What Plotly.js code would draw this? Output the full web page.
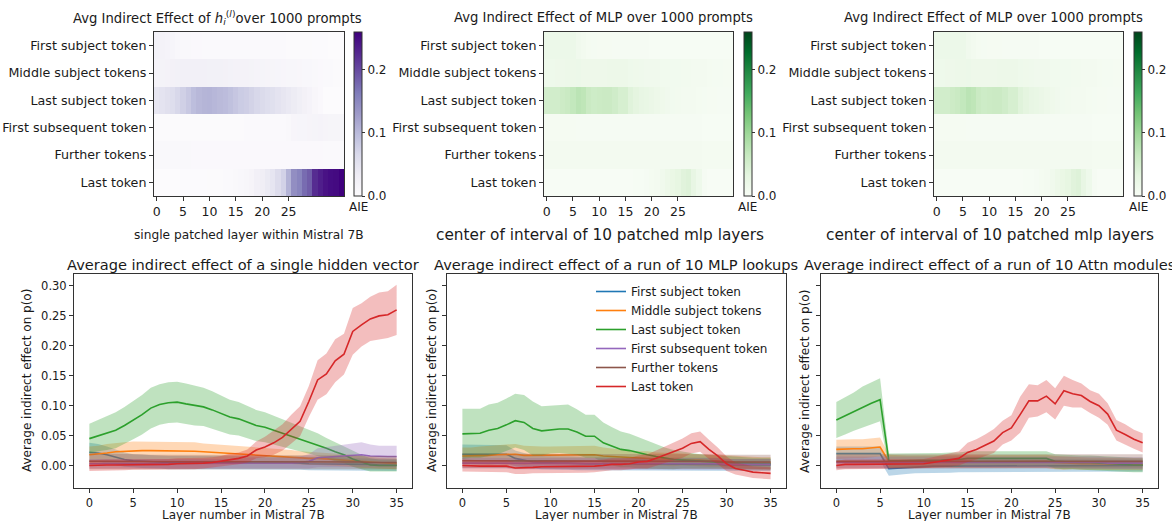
<!DOCTYPE html>
<html>
<head>
<meta charset="utf-8">
<script src="https://cdn.plot.ly/plotly-3.0.1.min.js"></script>
<style>html,body{margin:0;padding:0;background:#fff;}#chart{width:1172px;height:521px;}</style>
</head>
<body>
<div id="chart"></div>
<script>
const layers = [0,1,2,3,4,5,6,7,8,9,10,11,12,13,14,15,16,17,18,19,20,21,22,23,24,25,26,27,28,29,30,31,32,33,34,35];
const tokenLabels = ['First subject token','Middle subject tokens','Last subject token','First subsequent token','Further tokens','Last token'];
const seriesColors = ['#1f77b4','#ff7f0e','#2ca02c','#9467bd','#8c564b','#d62728'];
const bandColors = ['rgba(31,119,180,0.3)','rgba(255,127,14,0.3)','rgba(44,160,44,0.3)','rgba(148,103,189,0.3)','rgba(140,86,75,0.3)','rgba(214,39,40,0.3)'];
const heatTickVals = [0,5,10,15,20,25];
const lineTickVals = [0,5,10,15,20,25,30,35];
const yTickVals = [0,0.05,0.10,0.15,0.20,0.25,0.30];
const yTickText = ['0.00','0.05','0.10','0.15','0.20','0.25','0.30'];
const cbTickVals = [0,0.1,0.2];
const cbTickText = ['0.0','0.1','0.2'];

// ---- single hidden vector ----
const hidFirstSubj = [0.022,0.021,0.018,0.014,0.010,0.008,0.007,0.006,0.006,0.005,0.005,0.005,
  0.005,0.005,0.005,0.004,0.004,0.004,0.004,0.004,0.004,0.004,0.004,0.004,
  0.004,0.003,0.003,0.003,0.003,0.003,0.002,0.002,0.002,0.001,0.001,0.001];
const hidFirstSubjErr = [0.016,0.015,0.014,0.013,0.012,0.011,0.011,0.011,0.011,0.011,0.011,0.011,
  0.011,0.011,0.011,0.011,0.011,0.011,0.011,0.011,0.011,0.011,0.011,0.011,
  0.011,0.011,0.011,0.011,0.011,0.011,0.010,0.010,0.010,0.010,0.010,0.010];
const hidMidSubj = [0.018,0.019,0.021,0.023,0.024,0.025,0.025,0.025,0.025,0.025,0.024,0.024,
  0.024,0.023,0.022,0.021,0.020,0.020,0.019,0.018,0.017,0.016,0.015,0.014,
  0.013,0.012,0.012,0.011,0.010,0.009,0.008,0.006,0.005,0.004,0.003,0.003];
const hidMidSubjErr = [0.014,0.014,0.015,0.015,0.015,0.015,0.015,0.015,0.015,0.015,0.015,0.015,
  0.015,0.014,0.014,0.014,0.013,0.013,0.013,0.013,0.012,0.012,0.012,0.012,
  0.011,0.011,0.011,0.011,0.010,0.010,0.010,0.010,0.009,0.009,0.009,0.009];
const hidLastSubj = [0.045,0.050,0.054,0.059,0.067,0.076,0.085,0.096,0.102,0.105,0.106,0.103,
  0.100,0.098,0.093,0.087,0.081,0.078,0.073,0.067,0.064,0.059,0.055,0.050,
  0.045,0.040,0.035,0.029,0.023,0.018,0.011,0.006,0.001,0.000,0.000,0.000];
const hidLastSubjErr = [0.025,0.026,0.028,0.030,0.031,0.032,0.033,0.034,0.034,0.034,0.034,0.034,
  0.033,0.032,0.031,0.030,0.029,0.028,0.027,0.026,0.025,0.024,0.023,0.022,
  0.021,0.020,0.019,0.017,0.016,0.014,0.013,0.012,0.011,0.010,0.010,0.010];
const hidFirstSubseq = [0.003,0.003,0.003,0.003,0.003,0.003,0.003,0.003,0.003,0.003,0.003,0.003,
  0.003,0.003,0.003,0.003,0.003,0.004,0.004,0.004,0.004,0.004,0.004,0.004,
  0.005,0.007,0.013,0.014,0.014,0.016,0.017,0.018,0.016,0.015,0.015,0.015];
const hidFirstSubseqErr = [0.008,0.008,0.008,0.008,0.008,0.008,0.008,0.008,0.008,0.008,0.008,0.008,
  0.008,0.008,0.008,0.008,0.008,0.009,0.009,0.009,0.009,0.009,0.009,0.010,
  0.010,0.012,0.016,0.017,0.018,0.019,0.020,0.021,0.019,0.018,0.018,0.018];
const hidFurther = [0.007,0.007,0.007,0.007,0.007,0.007,0.007,0.006,0.006,0.006,0.006,0.006,
  0.006,0.006,0.006,0.006,0.006,0.006,0.006,0.006,0.006,0.006,0.006,0.006,
  0.006,0.006,0.006,0.006,0.006,0.006,0.006,0.006,0.005,0.005,0.005,0.005];
const hidFurtherErr = [0.013,0.013,0.013,0.013,0.013,0.013,0.012,0.012,0.012,0.012,0.012,0.012,
  0.012,0.012,0.012,0.012,0.012,0.012,0.012,0.012,0.012,0.012,0.012,0.012,
  0.012,0.012,0.012,0.012,0.012,0.012,0.011,0.011,0.011,0.011,0.011,0.011];
const hidLast = [0.000,0.001,0.001,0.001,0.001,0.002,0.002,0.002,0.002,0.002,0.003,0.003,
  0.003,0.004,0.005,0.007,0.010,0.012,0.016,0.026,0.031,0.038,0.047,0.061,
  0.074,0.107,0.143,0.153,0.175,0.186,0.224,0.235,0.245,0.250,0.252,0.260];
const hidLastErr = [0.009,0.009,0.009,0.009,0.009,0.009,0.009,0.009,0.009,0.009,0.009,0.009,
  0.009,0.009,0.009,0.009,0.010,0.010,0.011,0.014,0.017,0.020,0.022,0.024,
  0.025,0.026,0.033,0.034,0.036,0.034,0.039,0.036,0.037,0.039,0.039,0.042];

// ---- run of 10 MLP lookups ----
const mlpFirstSubj = [0.019,0.019,0.019,0.019,0.019,0.019,0.012,0.009,0.006,0.005,0.004,0.004,
  0.004,0.003,0.003,0.003,0.003,0.003,0.003,0.003,0.002,0.002,0.002,0.002,
  0.002,0.002,0.002,0.002,0.002,0.002,0.001,0.001,0.001,0.001,0.001,0.001];
const mlpFirstSubjErr = [0.016,0.016,0.016,0.016,0.016,0.015,0.013,0.012,0.011,0.011,0.011,0.011,
  0.011,0.011,0.011,0.011,0.011,0.011,0.011,0.011,0.011,0.011,0.011,0.011,
  0.011,0.011,0.011,0.011,0.011,0.011,0.010,0.010,0.010,0.010,0.010,0.010];
const mlpMidSubj = [0.016,0.016,0.017,0.017,0.018,0.018,0.019,0.017,0.017,0.017,0.017,0.017,
  0.018,0.018,0.018,0.018,0.016,0.015,0.014,0.013,0.012,0.012,0.011,0.011,
  0.010,0.010,0.009,0.009,0.008,0.008,0.007,0.006,0.005,0.005,0.004,0.004];
const mlpMidSubjErr = [0.014,0.014,0.015,0.016,0.016,0.017,0.017,0.016,0.015,0.015,0.015,0.015,
  0.015,0.015,0.015,0.015,0.014,0.013,0.013,0.012,0.012,0.012,0.011,0.011,
  0.011,0.010,0.010,0.010,0.010,0.010,0.010,0.010,0.010,0.010,0.010,0.010];
const mlpLastSubj = [0.053,0.054,0.054,0.059,0.062,0.068,0.075,0.072,0.062,0.058,0.060,0.061,
  0.061,0.056,0.049,0.049,0.038,0.032,0.027,0.025,0.021,0.018,0.015,0.012,
  0.010,0.009,0.008,0.007,0.007,0.006,0.005,0.004,0.004,0.003,0.003,0.003];
const mlpLastSubjErr = [0.042,0.041,0.041,0.043,0.043,0.044,0.045,0.046,0.045,0.041,0.040,0.040,
  0.041,0.038,0.036,0.036,0.034,0.032,0.030,0.028,0.026,0.024,0.021,0.018,
  0.016,0.014,0.013,0.012,0.011,0.011,0.010,0.010,0.010,0.010,0.010,0.010];
const mlpFirstSubseq = [0.004,0.004,0.004,0.004,0.004,0.004,0.003,0.003,0.003,0.003,0.003,0.003,
  0.003,0.003,0.003,0.003,0.003,0.003,0.003,0.003,0.003,0.003,0.003,0.003,
  0.003,0.003,0.003,0.003,0.003,0.003,0.002,0.002,0.002,0.002,0.002,0.002];
const mlpFirstSubseqErr = [0.009,0.009,0.009,0.009,0.009,0.009,0.009,0.009,0.009,0.009,0.009,0.009,
  0.009,0.009,0.009,0.009,0.009,0.009,0.009,0.009,0.009,0.009,0.009,0.009,
  0.009,0.009,0.009,0.009,0.009,0.009,0.009,0.009,0.009,0.009,0.009,0.009];
const mlpFurther = [0.008,0.008,0.008,0.008,0.008,0.008,0.007,0.007,0.007,0.007,0.007,0.007,
  0.007,0.007,0.007,0.007,0.007,0.007,0.007,0.007,0.007,0.007,0.007,0.007,
  0.007,0.007,0.007,0.007,0.007,0.007,0.006,0.006,0.006,0.006,0.006,0.006];
const mlpFurtherErr = [0.012,0.012,0.012,0.012,0.012,0.012,0.012,0.012,0.012,0.012,0.012,0.012,
  0.012,0.012,0.012,0.012,0.012,0.012,0.012,0.012,0.012,0.012,0.012,0.012,
  0.012,0.012,0.012,0.012,0.012,0.012,0.012,0.012,0.012,0.012,0.012,0.012];
const mlpLast = [0.000,-0.001,-0.001,-0.001,-0.001,-0.001,-0.004,-0.004,-0.003,-0.002,-0.002,-0.002,
  -0.002,-0.002,-0.002,-0.001,0.000,0.002,0.002,0.003,0.006,0.007,0.012,0.018,
  0.024,0.029,0.037,0.040,0.027,0.016,0.003,-0.005,-0.008,-0.011,-0.012,-0.013];
const mlpLastErr = [0.010,0.010,0.010,0.010,0.010,0.010,0.010,0.010,0.010,0.010,0.010,0.010,
  0.010,0.010,0.010,0.010,0.010,0.010,0.010,0.010,0.011,0.012,0.013,0.014,
  0.015,0.016,0.017,0.017,0.016,0.014,0.012,0.010,0.010,0.010,0.010,0.010];

// ---- run of 10 Attn modules ----
const attnFirstSubj = [0.020,0.020,0.020,0.020,0.020,0.020,-0.005,-0.004,-0.003,-0.002,-0.002,-0.001,
  -0.001,-0.001,0.000,0.000,0.000,0.000,0.000,0.000,0.000,0.000,0.000,0.000,
  0.000,0.000,0.000,0.000,0.000,0.000,0.000,0.000,0.000,0.000,0.000,0.000];
const attnFirstSubjErr = [0.012,0.012,0.012,0.012,0.012,0.012,0.012,0.011,0.011,0.011,0.011,0.011,
  0.011,0.011,0.011,0.011,0.011,0.011,0.011,0.011,0.011,0.011,0.011,0.011,
  0.011,0.011,0.011,0.011,0.011,0.011,0.010,0.010,0.010,0.010,0.010,0.010];
const attnMidSubj = [0.027,0.028,0.028,0.028,0.029,0.031,0.007,0.006,0.006,0.006,0.006,0.006,
  0.006,0.006,0.007,0.007,0.007,0.007,0.007,0.007,0.007,0.007,0.007,0.007,
  0.007,0.005,0.004,0.004,0.003,0.003,0.003,0.003,0.002,0.002,0.002,0.002];
const attnMidSubjErr = [0.016,0.016,0.016,0.016,0.016,0.016,0.011,0.011,0.011,0.011,0.011,0.011,
  0.011,0.011,0.011,0.011,0.011,0.011,0.011,0.011,0.011,0.011,0.011,0.011,
  0.011,0.011,0.011,0.010,0.010,0.010,0.010,0.010,0.010,0.010,0.010,0.010];
const attnLastSubj = [0.076,0.083,0.090,0.098,0.104,0.110,0.008,0.008,0.008,0.008,0.009,0.009,
  0.009,0.010,0.010,0.012,0.012,0.012,0.012,0.012,0.012,0.012,0.012,0.012,
  0.012,0.007,0.006,0.006,0.005,0.005,0.004,0.003,0.002,0.001,0.001,0.001];
const attnLastSubjErr = [0.030,0.031,0.032,0.034,0.035,0.036,0.012,0.012,0.012,0.012,0.012,0.012,
  0.012,0.012,0.012,0.012,0.012,0.012,0.012,0.012,0.012,0.012,0.012,0.012,
  0.012,0.012,0.012,0.012,0.012,0.012,0.012,0.012,0.012,0.012,0.012,0.012];
const attnFirstSubseq = [0.005,0.005,0.005,0.005,0.005,0.005,0.005,0.005,0.005,0.005,0.005,0.005,
  0.005,0.006,0.006,0.006,0.006,0.006,0.006,0.006,0.006,0.006,0.006,0.006,
  0.006,0.006,0.006,0.006,0.005,0.005,0.005,0.004,0.004,0.004,0.004,0.004];
const attnFirstSubseqErr = [0.010,0.010,0.010,0.010,0.010,0.010,0.010,0.010,0.010,0.010,0.010,0.010,
  0.010,0.010,0.010,0.010,0.010,0.010,0.010,0.010,0.010,0.010,0.010,0.010,
  0.010,0.010,0.010,0.010,0.010,0.010,0.010,0.010,0.010,0.010,0.010,0.010];
const attnFurther = [0.007,0.007,0.007,0.007,0.007,0.007,0.007,0.007,0.007,0.007,0.007,0.007,
  0.008,0.008,0.008,0.008,0.008,0.008,0.008,0.008,0.008,0.008,0.008,0.008,
  0.007,0.007,0.007,0.007,0.007,0.007,0.007,0.007,0.007,0.007,0.007,0.007];
const attnFurtherErr = [0.012,0.012,0.012,0.012,0.012,0.012,0.012,0.012,0.012,0.012,0.012,0.012,
  0.012,0.012,0.012,0.012,0.012,0.012,0.012,0.012,0.012,0.012,0.012,0.012,
  0.012,0.012,0.012,0.012,0.012,0.012,0.012,0.012,0.012,0.012,0.012,0.012];
const attnLast = [0.000,0.002,0.002,0.002,0.002,0.002,0.003,0.003,0.003,0.003,0.003,0.005,
  0.007,0.009,0.012,0.022,0.027,0.034,0.041,0.055,0.063,0.085,0.108,0.108,
  0.116,0.103,0.125,0.120,0.117,0.107,0.100,0.086,0.059,0.052,0.044,0.038];
const attnLastErr = [0.008,0.008,0.008,0.008,0.008,0.008,0.008,0.008,0.008,0.008,0.008,0.009,
  0.010,0.011,0.012,0.016,0.017,0.018,0.020,0.020,0.021,0.030,0.028,0.026,
  0.027,0.026,0.025,0.023,0.020,0.019,0.020,0.018,0.017,0.017,0.016,0.016];

const purples = [[0,'#fcfbfd'],[0.125,'#efedf5'],[0.25,'#dadaeb'],[0.375,'#bcbddc'],[0.5,'#9e9ac8'],[0.625,'#807dba'],[0.75,'#6a51a3'],[0.875,'#54278f'],[1,'#3f007d']];
const greens = [[0,'#f7fcf5'],[0.125,'#e5f5e0'],[0.25,'#c7e9c0'],[0.375,'#a1d99b'],[0.5,'#74c476'],[0.625,'#41ab5d'],[0.75,'#238b45'],[0.875,'#006d2c'],[1,'#00441b']];

const W = 1172, H = 521;
const px = v => v / W;
const py = v => 1 - v / H;
const FONT = 'DejaVu Sans';
const TXT = '#1a1a1a';
const AX = '#333333';

const hidSeries = [hidFirstSubj, hidMidSubj, hidLastSubj, hidFirstSubseq, hidFurther, hidLast];
const hidErrs = [hidFirstSubjErr, hidMidSubjErr, hidLastSubjErr, hidFirstSubseqErr, hidFurtherErr, hidLastErr];
const mlpSeries = [mlpFirstSubj, mlpMidSubj, mlpLastSubj, mlpFirstSubseq, mlpFurther, mlpLast];
const mlpErrs = [mlpFirstSubjErr, mlpMidSubjErr, mlpLastSubjErr, mlpFirstSubseqErr, mlpFurtherErr, mlpLastErr];
const attnSeries = [attnFirstSubj, attnMidSubj, attnLastSubj, attnFirstSubseq, attnFurther, attnLast];
const attnErrs = [attnFirstSubjErr, attnMidSubjErr, attnLastSubjErr, attnFirstSubseqErr, attnFurtherErr, attnLastErr];

const traces = [];

function heat(z, scale, xa, ya, cbx) {
  traces.push({
    type: 'heatmap', x: layers, y: tokenLabels, z: z, xaxis: xa, yaxis: ya,
    zmin: 0, zmax: 0.26, colorscale: scale, hoverinfo: 'skip',
    colorbar: {
      thickness: 8, thicknessmode: 'pixels', len: 164, lenmode: 'pixels',
      x: px(cbx), xanchor: 'left', y: py(32), yanchor: 'top', xpad: 0, ypad: 0,
      outlinewidth: 1, outlinecolor: AX, ticks: 'outside', ticklen: 3, tickcolor: AX,
      tickvals: cbTickVals, ticktext: cbTickText, tickfont: {family: FONT, size: 12, color: TXT}
    }
  });
}
heat(hidSeries, purples, 'x', 'y', 354);
heat(mlpSeries, greens, 'x2', 'y2', 744);
heat(mlpSeries, greens, 'x3', 'y3', 1134);

function linePanel(series, errs, xa, ya, legend) {
  const xBand = layers.concat(layers.slice().reverse());
  series.forEach((s, i) => {
    const up = s.map((v, k) => v + errs[i][k]);
    const lo = s.map((v, k) => v - errs[i][k]).reverse();
    traces.push({type: 'scatter', mode: 'lines', x: xBand, y: up.concat(lo), xaxis: xa, yaxis: ya,
      fill: 'toself', fillcolor: bandColors[i], line: {width: 0, color: bandColors[i]},
      showlegend: false, hoverinfo: 'skip'});
    traces.push({type: 'scatter', mode: 'lines', x: layers, y: s, xaxis: xa, yaxis: ya,
      name: tokenLabels[i], line: {color: seriesColors[i], width: 1.6},
      showlegend: legend, hoverinfo: 'skip'});
  });
}
linePanel(hidSeries, hidErrs, 'x4', 'y4', false);
linePanel(mlpSeries, mlpErrs, 'x5', 'y5', true);
linePanel(attnSeries, attnErrs, 'x6', 'y6', false);

function heatX(l, r, anchor) {
  return {domain: [px(l), px(r)], anchor: anchor, range: [-0.5, 35.5], tickvals: heatTickVals,
    ticks: 'outside', ticklen: 4, tickcolor: AX, showline: true, mirror: true, linecolor: AX, linewidth: 1,
    showgrid: false, zeroline: false, tickfont: {family: FONT, size: 12.5, color: TXT}, fixedrange: true};
}
function heatY(anchor) {
  return {domain: [py(196), py(32)], anchor: anchor, type: 'category', autorange: 'reversed',
    ticks: 'outside', ticklen: 4, tickcolor: AX, showline: true, mirror: true, linecolor: AX, linewidth: 1,
    showgrid: false, zeroline: false, tickfont: {family: FONT, size: 12.7, color: TXT}, fixedrange: true};
}
const lf = {family: FONT, size: 11.5, color: TXT};
function lineX(l, r, anchor) {
  return {domain: [px(l), px(r)], anchor: anchor, range: [-1.75, 36.75], tickvals: lineTickVals,
    ticks: 'outside', ticklen: 4, tickcolor: AX, showline: true, mirror: true, linecolor: AX, linewidth: 1,
    showgrid: false, zeroline: false, tickfont: lf};
}
function lineY(anchor, labels) {
  return {domain: [py(488), py(274)], anchor: anchor, range: [-0.0375, 0.32], tickvals: yTickVals, ticktext: yTickText,
    showticklabels: labels, ticks: 'outside', ticklen: 4, tickcolor: AX, showline: true, mirror: true,
    linecolor: AX, linewidth: 1, showgrid: false, zeroline: false, tickfont: lf};
}

function ann(text, x, y, size, extra) {
  return Object.assign({text: text, x: px(x), y: py(y), xref: 'paper', yref: 'paper', showarrow: false,
    xanchor: 'center', yanchor: 'middle', font: {family: FONT, size: size, color: TXT}}, extra || {});
}
const annotations = [
  ann('Avg Indirect Effect of <i>h</i><sub><i>i</i></sub><sup>(<i>l</i>)</sup>over 1000 prompts', 217, 18, 13.2),
  ann('Avg Indirect Effect of MLP over 1000 prompts', 603, 18, 13.2),
  ann('Avg Indirect Effect of MLP over 1000 prompts', 993, 18, 13.2),
  ann('single patched layer within Mistral 7B', 249, 235, 12.2),
  ann('center of interval of 10 patched mlp layers', 600, 235, 15.3),
  ann('center of interval of 10 patched mlp layers', 990, 235, 15.3),
  ann('AIE', 358, 207, 12), ann('AIE', 748, 207, 12), ann('AIE', 1138, 207, 12),
  ann('Average indirect effect of a single hidden vector', 243, 264, 14.6),
  ann('Average indirect effect of a run of 10 MLP lookups', 616, 264, 14.6),
  ann('Average indirect effect of a run of 10 Attn modules', 989, 264, 14.6),
  ann('Layer number in Mistral 7B', 243, 515, 12),
  ann('Layer number in Mistral 7B', 616, 515, 12),
  ann('Layer number in Mistral 7B', 989, 515, 12),
  ann('Average indirect effect on p(o)', 27, 381, 12, {textangle: -90}),
  ann('Average indirect effect on p(o)', 432, 381, 12, {textangle: -90}),
  ann('Average indirect effect on p(o)', 805, 381, 12, {textangle: -90})
];

const layout = {
  width: W, height: H, margin: {l: 0, r: 0, t: 0, b: 0}, paper_bgcolor: '#fff', plot_bgcolor: '#fff',
  font: {family: FONT, color: TXT},
  xaxis: heatX(154, 344, 'y'), yaxis: heatY('x'),
  xaxis2: heatX(544, 733, 'y2'), yaxis2: heatY('x2'),
  xaxis3: heatX(934, 1123, 'y3'), yaxis3: heatY('x3'),
  xaxis4: lineX(74, 412, 'y4'), yaxis4: lineY('x4', true),
  xaxis5: lineX(447, 786, 'y5'), yaxis5: lineY('x5', false),
  xaxis6: lineX(821, 1158, 'y6'), yaxis6: lineY('x6', false),
  showlegend: true,
  legend: {x: px(591), y: py(277), xanchor: 'left', yanchor: 'top', bgcolor: 'rgba(0,0,0,0)',
    font: {family: FONT, size: 12, color: TXT}, itemwidth: 30, tracegroupgap: 0, traceorder: 'normal'},
  annotations: annotations
};

Plotly.newPlot('chart', traces, layout, {staticPlot: true, displayModeBar: false});
</script>
</body>
</html>
